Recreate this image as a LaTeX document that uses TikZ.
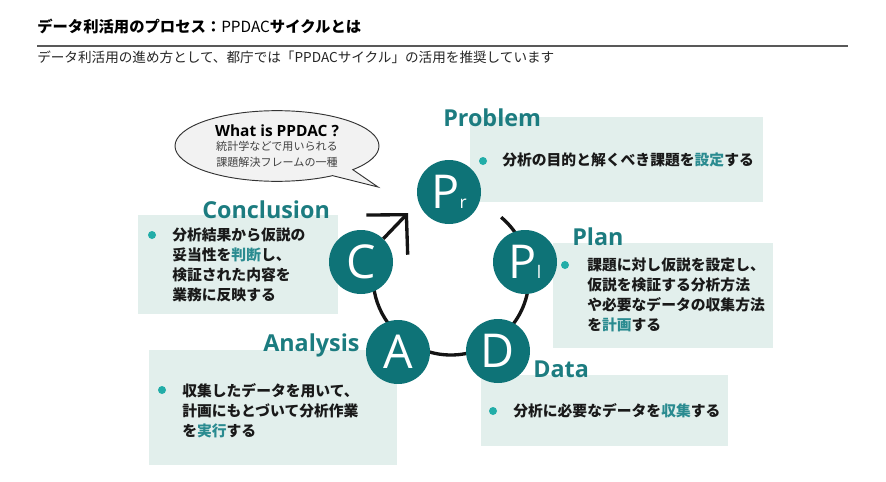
\documentclass[tikz,border=0pt]{standalone}
\usepackage{fontspec}
\setmainfont{Noto Sans CJK JP}
\newfontfamily\latinfont{Open Sans}
\usetikzlibrary{arrows.meta,shapes.callouts,fit}
\definecolor{circteal}{HTML}{0E7377}
\definecolor{labelteal}{HTML}{1C7C80}
\definecolor{boxfill}{HTML}{E2EFEC}
\definecolor{dotteal}{HTML}{22ADA8}
\definecolor{keyteal}{HTML}{2A8B90}
\definecolor{bubblefill}{HTML}{F2F2F2}
\newcommand{\keyword}[1]{\textcolor{keyteal}{#1}}
\newcommand{\lowidx}[1]{{\fontsize{13pt}{13pt}\selectfont #1}}
\tikzset{
	stage/.style = {circle, fill = circteal, text = white, minimum size = 48pt, inner sep = 0pt, font = \latinfont\fontsize{35pt}{35pt}\selectfont},
	panel/.style = {rectangle, fill = boxfill, inner sep = 0pt},
	phase/.style = {text = labelteal, inner sep = 0pt, anchor = west, font = \latinfont\bfseries\fontsize{17.5pt}{17.5pt}\selectfont},
	body/.style = {inner sep = 0pt, align = left, text = black!90, font = \bfseries\fontsize{11.1pt}{15pt}\selectfont},
	bullet/.style = {circle, fill = dotteal, minimum size = 6pt, inner sep = 0pt},
	cycle/.style = {line width = 2.5pt, black!92},
	bubble/.style = {ellipse callout, draw = black!80, fill = bubblefill, line width = 0.7pt, inner sep = 0pt, align = center}
}
\begin{document}
\begin{tikzpicture}[x = 0.75pt, y = -0.75pt]
	\fill[white] (0,0) rectangle (886,482);
	\useasboundingbox (0,0) rectangle (886,482);
	\node[anchor = west, inner sep = 0pt, font = \bfseries\fontsize{11.5pt}{11.5pt}\selectfont] (title) at (37,27) {データ利活用のプロセス：{\mdseries PPDAC}サイクルとは};
	\draw[line width = 1.5pt, black!65] (37,46) -- (848,46);
	\node[anchor = west, inner sep = 0pt, text = black!85, font = \fontsize{10.2pt}{10.2pt}\selectfont] (lead) at (37,57) {データ利活用の進め方として、都庁では「PPDACサイクル」の活用を推奨しています};
	\node[bubble, callout absolute pointer = {(378,187)}, minimum width = 153pt, minimum height = 53pt] (what) at (277,146) {{\latinfont\bfseries\fontsize{11.6pt}{12pt}\selectfont What is PPDAC ?}\\[-1pt] {\color{black!75}\fontsize{8.3pt}{12.75pt}\selectfont 統計学などで用いられる}\\ {\color{black!75}\fontsize{8.3pt}{12.75pt}\selectfont 課題解決フレームの一種}};
	\node[panel, fit = {(470,117) (763,202)}] (probbox) {};
	\node[panel, fit = {(553,243) (773,348)}] (planbox) {};
	\node[panel, fit = {(138,215) (338,314)}] (conbox) {};
	\node[panel, fit = {(149,350) (397,465)}] (anabox) {};
	\node[panel, fit = {(481,375) (728,446)}] (databox) {};
	\coordinate (ring) at (451,277);
	\draw[cycle] (ring) ++(310:78) arc[start angle = 310, end angle = 560, radius = 78];
	\node[stage] (pr) at (449,192) {P\lowidx{r}};
	\node[stage] (pl) at (525,262) {P\lowidx{l}};
	\node[stage] (dt) at (498,351) {D};
	\node[stage] (an) at (398,352) {A};
	\node[stage] (cn) at (361,262) {C};
	\coordinate (tip) at (408,213);
	\draw[cycle, -{Straight Barb[length = 21pt, width = 43pt]}] (cn) -- (tip);
	\node[phase] (problabel) at (443,118) {Problem};
	\node[phase] (planlabel) at (572,237) {Plan};
	\node[phase] (conlabel) at (202,210) {Conclusion};
	\node[phase] (analabel) at (263,345) {Analysis};
	\node[phase] (datalabel) at (533,369) {Data};
	\node[bullet] (probdot) at (483,161) {};
	\node[body, anchor = west] (probtext) at (502,160) {分析の目的と解くべき課題を\keyword{設定}する};
	\node[bullet] (plandot) at (565,265) {};
	\node[body, anchor = north west] (plantext) at (587,258) {課題に対し仮説を設定し、\\仮説を検証する分析方法\\や必要なデータの収集方法\\を\keyword{計画}する};
	\node[bullet] (condot) at (152,235) {};
	\node[body, anchor = north west] (context) at (172,228) {分析結果から仮説の\\妥当性を\keyword{判断}し、\\検証された内容を\\業務に反映する};
	\node[bullet] (anadot) at (162,390) {};
	\node[body, anchor = north west] (anatext) at (182,383) {収集したデータを用いて、\\計画にもとづいて分析作業\\を\keyword{実行}する};
	\node[bullet] (datadot) at (493,411) {};
	\node[body, anchor = west] (datatext) at (513,411) {分析に必要なデータを\keyword{収集}する};
\end{tikzpicture}
\end{document}
